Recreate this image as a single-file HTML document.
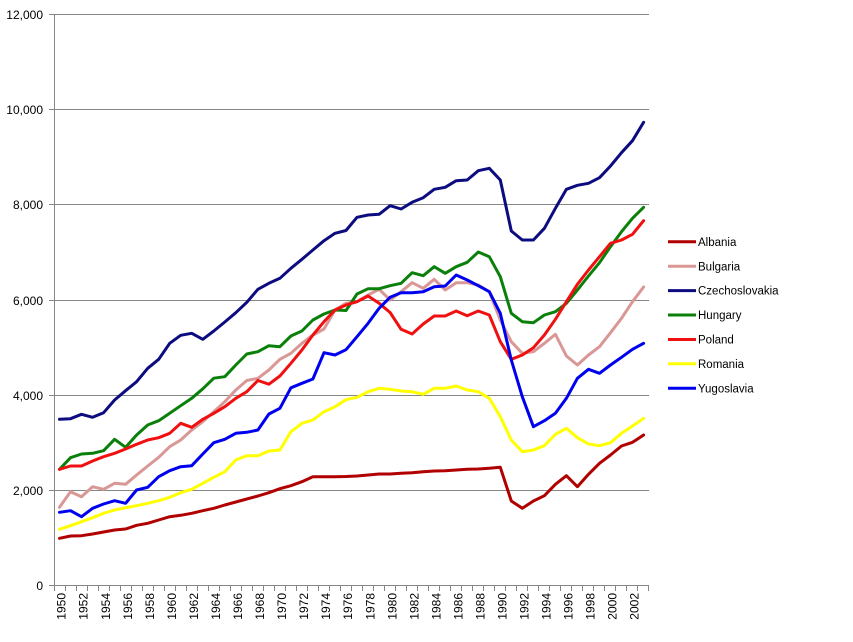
<!DOCTYPE html>
<html>
<head>
<meta charset="utf-8">
<style>
  html, body { margin: 0; padding: 0; background: #ffffff; }
  svg { display: block; }
  text { font-family: "Liberation Sans", Arial, sans-serif; fill: #000; }
</style>
</head>
<body>
<svg width="853" height="642" viewBox="0 0 853 642" xmlns="http://www.w3.org/2000/svg">
  <rect x="0" y="0" width="853" height="642" fill="#ffffff"/>
  <!-- gridlines -->
  <g stroke="#868686" stroke-width="1" shape-rendering="crispEdges">
    <line x1="49" y1="14.5" x2="649" y2="14.5"/>
    <line x1="49" y1="109.5" x2="649" y2="109.5"/>
    <line x1="49" y1="204.5" x2="649" y2="204.5"/>
    <line x1="49" y1="300.5" x2="649" y2="300.5"/>
    <line x1="49" y1="395.5" x2="649" y2="395.5"/>
    <line x1="49" y1="490.5" x2="649" y2="490.5"/>
    <line x1="49" y1="585.5" x2="649" y2="585.5"/>
    <line x1="54.5" y1="14" x2="54.5" y2="586"/>
  </g>
  <!-- x ticks -->
  <g stroke="#868686" stroke-width="1" shape-rendering="crispEdges" id="xt"></g>
  <!-- y labels -->
  <g font-size="12" text-anchor="end">
    <text x="43" y="19">12,000</text>
    <text x="43" y="114">10,000</text>
    <text x="43" y="209">8,000</text>
    <text x="43" y="305">6,000</text>
    <text x="43" y="400">4,000</text>
    <text x="43" y="495">2,000</text>
    <text x="43" y="590">0</text>
  </g>
  <!-- x labels -->
  <g font-size="12" text-anchor="end">
    <text transform="translate(65.7,593) rotate(-90)">1950</text>
    <text transform="translate(87.7,593) rotate(-90)">1952</text>
    <text transform="translate(109.8,593) rotate(-90)">1954</text>
    <text transform="translate(131.8,593) rotate(-90)">1956</text>
    <text transform="translate(153.9,593) rotate(-90)">1958</text>
    <text transform="translate(175.9,593) rotate(-90)">1960</text>
    <text transform="translate(197.9,593) rotate(-90)">1962</text>
    <text transform="translate(220.0,593) rotate(-90)">1964</text>
    <text transform="translate(242.0,593) rotate(-90)">1966</text>
    <text transform="translate(264.1,593) rotate(-90)">1968</text>
    <text transform="translate(286.1,593) rotate(-90)">1970</text>
    <text transform="translate(308.1,593) rotate(-90)">1972</text>
    <text transform="translate(330.2,593) rotate(-90)">1974</text>
    <text transform="translate(352.2,593) rotate(-90)">1976</text>
    <text transform="translate(374.3,593) rotate(-90)">1978</text>
    <text transform="translate(396.3,593) rotate(-90)">1980</text>
    <text transform="translate(418.3,593) rotate(-90)">1982</text>
    <text transform="translate(440.4,593) rotate(-90)">1984</text>
    <text transform="translate(462.4,593) rotate(-90)">1986</text>
    <text transform="translate(484.5,593) rotate(-90)">1988</text>
    <text transform="translate(506.5,593) rotate(-90)">1990</text>
    <text transform="translate(528.5,593) rotate(-90)">1992</text>
    <text transform="translate(550.6,593) rotate(-90)">1994</text>
    <text transform="translate(572.6,593) rotate(-90)">1996</text>
    <text transform="translate(594.7,593) rotate(-90)">1998</text>
    <text transform="translate(616.7,593) rotate(-90)">2000</text>
    <text transform="translate(638.7,593) rotate(-90)">2002</text>
  </g>
  <!-- series -->
  <g fill="none" stroke-width="3" stroke-linejoin="round" stroke-linecap="round">
    <!-- Albania -->
    <polyline stroke="#B00000" points="59.5,538.3 70.5,536 81.5,535.7 92.6,534 103.6,532 114.6,530 125.6,529 136.6,525.3 147.7,523.3 158.7,520 169.7,516.7 180.7,515.3 191.7,513.3 202.8,510.7 213.8,508.3 224.8,505 235.8,502 246.8,499 257.9,496 268.9,492.7 279.9,488.7 290.9,485.7 301.9,481.7 312.9,476.7 324.0,476.7 335.0,476.7 346.0,476.5 357.0,476 368.1,475 379.1,474 390.1,474 401.1,473.3 412.1,472.7 423.2,471.7 434.2,471 445.2,470.7 456.2,470 467.2,469.3 478.3,469 489.3,468.3 500.3,467.3 511.3,501 522.3,508.3 533.4,501 544.4,495.7 555.4,484.3 566.4,475.7 577.4,486.7 588.5,474.3 599.5,463.3 610.5,455 621.5,446 632.5,442.3 643.6,435"/>
    <!-- Bulgaria -->
    <polyline stroke="#D99795" points="59.5,507.3 70.5,491.7 81.5,496.7 92.6,486.7 103.6,489.3 114.6,483.3 125.6,484.3 136.6,475 147.7,466 158.7,457.3 169.7,446.7 180.7,440 191.7,430 202.8,421.7 213.8,411.7 224.8,401.7 235.8,390 246.8,380.5 257.9,378.3 268.9,370 279.9,359.3 290.9,353.3 301.9,343.3 312.9,335 324.0,329 335.0,310 346.0,303.3 357.0,301.7 368.1,295 379.1,289.3 390.1,300 401.1,291.7 412.1,282.7 423.2,288.3 434.2,279.3 445.2,290 456.2,282.7 467.2,282.7 478.3,285 489.3,291.7 500.3,320 511.3,341.7 522.3,353.3 533.4,351.7 544.4,343.3 555.4,334.3 566.4,356 577.4,365 588.5,355 599.5,346.7 610.5,332.7 621.5,318.3 632.5,301.7 643.6,287"/>
    <!-- Czechoslovakia -->
    <polyline stroke="#0C0C80" points="59.5,419.3 70.5,418.7 81.5,414.3 92.6,417.3 103.6,412.7 114.6,400 125.6,390.7 136.6,381.7 147.7,368.3 158.7,359.3 169.7,343.3 180.7,335.3 191.7,333.3 202.8,339.3 213.8,331 224.8,322 235.8,312.7 246.8,302.3 257.9,289.3 268.9,283.3 279.9,278.3 290.9,268.3 301.9,259.3 312.9,250 324.0,240.7 335.0,233.3 346.0,230.5 357.0,217.3 368.1,215 379.1,214.3 390.1,205.7 401.1,209 412.1,202.3 423.2,197.7 434.2,189.3 445.2,187.3 456.2,180.7 467.2,180 478.3,170.7 489.3,168.3 500.3,180 511.3,231 522.3,240 533.4,240 544.4,228.3 555.4,208.3 566.4,189.3 577.4,185.3 588.5,183.3 599.5,177.7 610.5,166 621.5,152.7 632.5,140.7 643.6,122.3"/>
    <!-- Hungary -->
    <polyline stroke="#0A800A" points="59.5,469.3 70.5,457.7 81.5,454 92.6,453.3 103.6,450.7 114.6,439.3 125.6,447.3 136.6,435 147.7,425 158.7,420.7 169.7,413.3 180.7,405.7 191.7,398.3 202.8,388.8 213.8,378.2 224.8,376.7 235.8,365 246.8,354 257.9,351.7 268.9,345.7 279.9,346.7 290.9,336 301.9,331 312.9,320 324.0,314 335.0,310 346.0,310.5 357.0,294 368.1,288.7 379.1,288.7 390.1,285.7 401.1,283.3 412.1,272.7 423.2,275.7 434.2,266.7 445.2,273.3 456.2,266.7 467.2,262.3 478.3,252 489.3,256.7 500.3,276.7 511.3,313.3 522.3,321.7 533.4,322.7 544.4,315 555.4,311.7 566.4,303.3 577.4,290 588.5,276 599.5,262.7 610.5,246.7 621.5,231.7 632.5,218.3 643.6,207.3"/>
    <!-- Poland -->
    <polyline stroke="#F01010" points="59.5,469.3 70.5,466 81.5,466 92.6,461 103.6,456.7 114.6,453.3 125.6,449 136.6,444.3 147.7,440 158.7,437.7 169.7,433.3 180.7,423.3 191.7,427.3 202.8,419.3 213.8,413.3 224.8,406.7 235.8,398.3 246.8,391.7 257.9,380.5 268.9,384.2 279.9,376 290.9,363.3 301.9,350 312.9,335 324.0,321.7 335.0,310 346.0,305 357.0,301.7 368.1,296 379.1,303.3 390.1,312.5 401.1,329.3 412.1,334 423.2,324 434.2,316 445.2,316 456.2,311 467.2,315.7 478.3,311 489.3,315 500.3,341.7 511.3,359.3 522.3,355 533.4,347.7 544.4,335 555.4,319.3 566.4,301.7 577.4,284.3 588.5,270 599.5,256.7 610.5,243.3 621.5,240 632.5,234.3 643.6,220.7"/>
    <!-- Romania -->
    <polyline stroke="#FFFF00" points="59.5,529.3 70.5,525.7 81.5,521.7 92.6,517.7 103.6,513.3 114.6,510 125.6,507.7 136.6,505.7 147.7,503.3 158.7,500.7 169.7,497.3 180.7,492.7 191.7,489.3 202.8,483.3 213.8,477.3 224.8,471.7 235.8,460 246.8,455.7 257.9,455.7 268.9,451 279.9,450 290.9,431.7 301.9,423.3 312.9,420 324.0,411.7 335.0,406.7 346.0,399.7 357.0,397.3 368.1,391.7 379.1,388.3 390.1,389.3 401.1,391 412.1,391.7 423.2,394.3 434.2,388.3 445.2,388.3 456.2,386 467.2,390 478.3,391.7 489.3,398.3 500.3,416.7 511.3,440 522.3,451.7 533.4,450 544.4,445.7 555.4,434.3 566.4,428.3 577.4,437.7 588.5,444 599.5,445.7 610.5,442.7 621.5,433.3 632.5,426 643.6,418.3"/>
    <!-- Yugoslavia -->
    <polyline stroke="#0000F0" points="59.5,512.3 70.5,510.7 81.5,516.7 92.6,508.3 103.6,504 114.6,500.7 125.6,503.3 136.6,490 147.7,487.3 158.7,476.7 169.7,470.7 180.7,466.7 191.7,465.7 202.8,454 213.8,442.7 224.8,439.3 235.8,433.3 246.8,432.3 257.9,430 268.9,414 279.9,408.3 290.9,387.8 301.9,383.3 312.9,379 324.0,352.7 335.0,355 346.0,349.7 357.0,336.7 368.1,323.3 379.1,308.3 390.1,297.3 401.1,292.7 412.1,292.7 423.2,291.7 434.2,286.7 445.2,286 456.2,275 467.2,280 478.3,285.7 489.3,291.7 500.3,313.3 511.3,360 522.3,396.7 533.4,426.7 544.4,420.7 555.4,413.3 566.4,398.3 577.4,378.3 588.5,369.3 599.5,373.3 610.5,365 621.5,357.3 632.5,349.3 643.6,343.3"/>
  </g>
  <!-- x ticks drawn statically -->
  <path stroke="#868686" stroke-width="1" shape-rendering="crispEdges" fill="none" d="M54.5,586v5 M65.5,586v5 M76.5,586v5 M87.5,586v5 M98.5,586v5 M109.5,586v5 M120.5,586v5 M131.5,586v5 M142.5,586v5 M153.5,586v5 M164.5,586v5 M175.5,586v5 M186.5,586v5 M197.5,586v5 M208.5,586v5 M219.5,586v5 M230.5,586v5 M241.5,586v5 M252.5,586v5 M263.5,586v5 M274.5,586v5 M285.5,586v5 M296.5,586v5 M307.5,586v5 M318.5,586v5 M329.5,586v5 M340.5,586v5 M351.5,586v5 M362.5,586v5 M373.5,586v5 M384.5,586v5 M395.5,586v5 M406.5,586v5 M417.5,586v5 M428.5,586v5 M439.5,586v5 M450.5,586v5 M461.5,586v5 M472.5,586v5 M483.5,586v5 M494.5,586v5 M505.5,586v5 M516.5,586v5 M527.5,586v5 M538.5,586v5 M549.5,586v5 M560.5,586v5 M571.5,586v5 M582.5,586v5 M593.5,586v5 M604.5,586v5 M615.5,586v5 M626.5,586v5 M637.5,586v5 M648.5,586v5"/>
  <!-- legend -->
  <g stroke-width="3">
    <line x1="668" y1="241.7" x2="696" y2="241.7" stroke="#B00000"/>
    <line x1="668" y1="266.2" x2="696" y2="266.2" stroke="#D99795"/>
    <line x1="668" y1="290.6" x2="696" y2="290.6" stroke="#0C0C80"/>
    <line x1="668" y1="315" x2="696" y2="315" stroke="#0A800A"/>
    <line x1="668" y1="339.5" x2="696" y2="339.5" stroke="#F01010"/>
    <line x1="668" y1="363.8" x2="696" y2="363.8" stroke="#FFFF00"/>
    <line x1="668" y1="388.2" x2="696" y2="388.2" stroke="#0000F0"/>
  </g>
  <g font-size="11.5">
    <text x="698" y="245.8">Albania</text>
    <text x="698" y="270.3">Bulgaria</text>
    <text x="698" y="294.7">Czechoslovakia</text>
    <text x="698" y="319.1">Hungary</text>
    <text x="698" y="343.6">Poland</text>
    <text x="698" y="367.9">Romania</text>
    <text x="698" y="392.3">Yugoslavia</text>
  </g>
</svg>
</body>
</html>
